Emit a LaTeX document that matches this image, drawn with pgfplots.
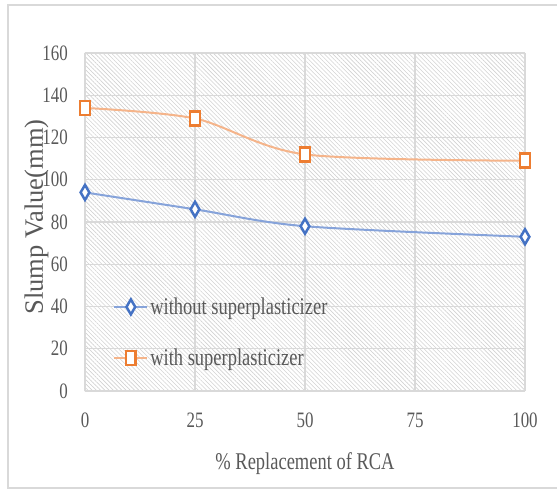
\documentclass[border=0pt]{standalone}
\usepackage{pgfplots}
\pgfplotsset{compat=1.18}
\usepackage{fontspec}
\setmainfont{Liberation Serif}[FakeStretch=0.77]
\newfontfamily\ylabfont{Liberation Serif}
\usetikzlibrary{patterns.meta}
\definecolor{txt}{HTML}{595959}
\definecolor{gridc}{HTML}{D9D9D9}
\definecolor{hatch}{HTML}{D2D2D2}
\definecolor{blueM}{HTML}{4472C4}
\definecolor{blueL}{HTML}{86A3DA}
\definecolor{orgM}{HTML}{ED7D31}
\definecolor{orgL}{HTML}{F5B48A}

\begin{document}
\begin{tikzpicture}
\begin{axis}[
  name=ax, scale only axis, width=440bp, height=338bp,
  xmin=0, xmax=100, ymin=0, ymax=160,
  xtick={0,25,50,75,100}, ytick={0,20,...,160},
  axis line style={draw=none},
  major tick length=0pt,
  grid=major, major grid style={gridc, line width=1.3bp},
  axis background/.style={pattern={Lines[angle=-45,distance=3bp,line width=0.6bp]}, pattern color=hatch},
  tick label style={font=\fontsize{22bp}{26bp}\selectfont, text=txt, inner sep=0pt},
  /pgf/number format/assume math mode=true,
  yticklabel shift=17bp, xticklabel shift=22bp,
  xlabel={\% Replacement of RCA},
  xlabel style={font=\fontsize{24bp}{28bp}\selectfont, text=txt,
    at={([yshift=-78bp]axis description cs:0.5,0)}, anchor=base, inner sep=0pt},
  ylabel={\ylabfont Slump Value(mm)},
  ylabel style={font=\fontsize{26.5bp}{30bp}\selectfont, text=txt,
    at={([xshift=-42bp,yshift=5bp]axis description cs:0,0.5)}, anchor=base, inner sep=0pt},
  clip=false,
  legend cell align=left,
  legend style={at={(axis cs:6.4,27.7)}, anchor=west, draw=none, fill=none,
    font=\fontsize{24bp}{28bp}\selectfont, text=txt, inner sep=0pt, row sep=29bp,
    /tikz/every even column/.append style={column sep=4bp}},
  legend image code/.code={\draw[mark repeat=2,mark phase=2,#1] plot coordinates {(0bp,0bp) (16.5bp,0bp) (33bp,0bp)};},
]
\addplot[blueL, line width=2bp, smooth, mark=diamond*, mark size=6.5bp,
  mark options={draw=blueM, fill=white, line width=2.5bp, xscale=0.9, yscale=1.15}]
  coordinates {(0,94) (25,86) (50,78) (100,73)};
\addlegendentry{without superplasticizer}
\addplot[orgL, line width=2bp, smooth, mark=square*, mark size=7bp,
  mark options={draw=orgM, fill=white, line width=2.7bp, xscale=0.7}]
  coordinates {(0,134) (25,129) (50,112) (100,109)};
\addlegendentry{with superplasticizer}
\end{axis}
% chart frame
\draw[gridc, line width=1.3bp] ([shift={(45bp,-97bp)}]ax.south east) -- ([shift={(-77bp,-97bp)}]ax.south west)
  -- ([shift={(-77bp,48bp)}]ax.north west) -- ([shift={(45bp,48bp)}]ax.north east);
\pgfresetboundingbox
\path[use as bounding box] ([shift={(-85bp,-98bp)}]ax.south west) rectangle ([shift={(32bp,53bp)}]ax.north east);
\end{tikzpicture}
\end{document}
